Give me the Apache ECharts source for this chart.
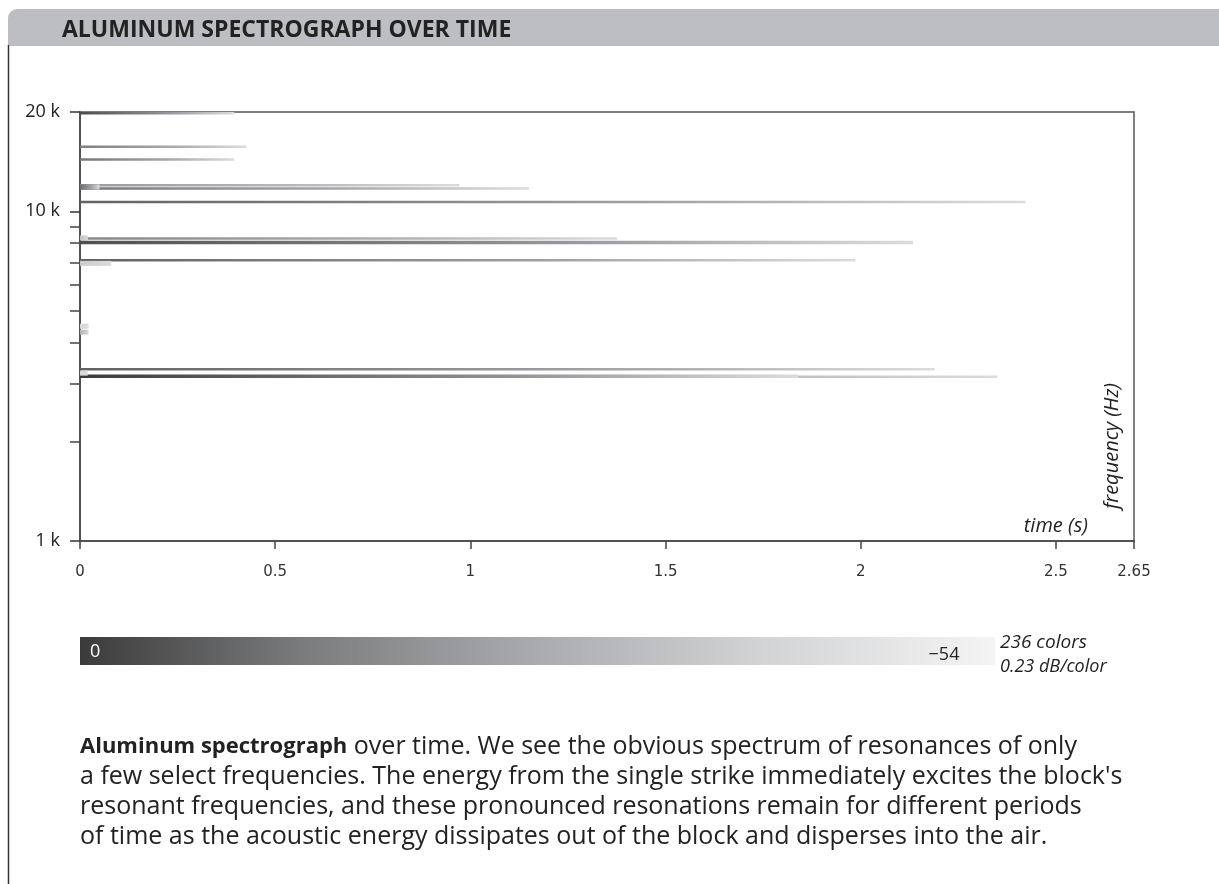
<!DOCTYPE html>
<html>
<head>
<meta charset="utf-8">
<script src="https://cdn.jsdelivr.net/npm/echarts@6/dist/echarts.min.js"></script>
<style>
html,body{margin:0;padding:0;background:#fff;}
#chart{width:1219px;height:884px;}
</style>
</head>
<body>
<div id="chart"></div>
<script>
// ---------- data ----------
const titleText = 'ALUMINUM SPECTROGRAPH OVER TIME';
// resonance lines: frequency (Hz), time at which it has faded out (s), level at t=0 (dB)
const freqs    = [19900, 15700, 14350, 12000, 11720, 11850, 10670, 8270, 8300, 8040, 7100, 6950, 4480, 4300, 3320, 3150, 3160, 3230];
const endTimes = [0.395, 0.426, 0.395, 0.972, 1.150, 0.05,  2.422, 1.376, 0.02, 2.134, 1.986, 0.08, 0.022, 0.022, 2.189, 2.35, 1.84, 0.02];
const startDb  = [-4,    -14,   -12,   -22,   -12,   -10,   -8,    -16,   -34,  -4,    -8,    -38,  -42,   -30,   -8,    -12,  0,    -42];
const xTickLabelMax = '2.65';
const xMax = 2.7;
const yMin = 1000, yMax = 20000;
const minorTickFreqs = [2000, 3000, 4000, 5000, 6000, 7000, 8000, 9000];
const dbRange = [0, -54];
const colorInfo = ['236 colors', '0.23 dB/color'];
const captionLines = [
  ['Aluminum spectrograph', ' over time. We see the obvious spectrum of resonances of only'],
  ['', 'a few select frequencies. The energy from the single strike immediately excites the block\'s'],
  ['', 'resonant frequencies, and these pronounced resonations remain for different periods'],
  ['', 'of time as the acoustic energy dissipates out of the block and disperses into the air.']
];

// ---------- styles ----------
const grayStops = ['#3b3b3b', '#7c7d7f', '#aaabae', '#d3d4d6', '#f4f4f4'];
function grayFor(db) {
  const t = Math.min(1, Math.max(0, db / dbRange[1]));
  return echarts.color.lerp(t, grayStops);
}
const fadeEndDb = -44;

const chart = echarts.init(document.getElementById('chart'), null, {renderer: 'canvas'});

const gridL = 80, gridT = 112, gridW = 1054, gridH = 429;

const graphics = [
  {type: 'rect', shape: {x: 8, y: 9, width: 1240, height: 37, r: [9, 0, 0, 0]}, style: {fill: '#bdbec2'}, z: 0},
  {type: 'line', shape: {x1: 8.5, y1: 45, x2: 8.5, y2: 884}, style: {stroke: '#333', lineWidth: 1.5}},
  {type: 'text', x: 62, y: 30, style: {text: titleText, font: 'bold 23px "Open Sans"', fill: '#222', verticalAlign: 'middle'}},
  // colour bar
  {type: 'rect', shape: {x: 80, y: 637, width: 915, height: 28},
    style: {fill: new echarts.graphic.LinearGradient(0, 0, 1, 0, grayStops.map((c, i) => ({offset: i / (grayStops.length - 1), color: c})))}},
  {type: 'text', x: 90, y: 652, style: {text: String(dbRange[0]), font: '18px "Open Sans"', fill: '#fff', verticalAlign: 'middle'}},
  {type: 'text', x: 944, y: 655, style: {text: '\u2212' + Math.abs(dbRange[1]), font: '18px "Open Sans"', fill: '#222', align: 'center', verticalAlign: 'middle'}},
  {type: 'text', x: 1000, y: 643, style: {text: colorInfo[0], font: 'italic 19px "Open Sans"', fill: '#222', verticalAlign: 'middle'}},
  {type: 'text', x: 1000, y: 667, style: {text: colorInfo[1], font: 'italic 18px "Open Sans"', fill: '#222', verticalAlign: 'middle'}},
  // axis names
  {type: 'text', x: 1088, y: 526, style: {text: 'time (s)', font: 'italic 20px "Open Sans"', fill: '#222', align: 'right', verticalAlign: 'middle'}},
  {type: 'text', x: 1112, y: 446, rotation: Math.PI / 2, style: {text: 'frequency (Hz)', font: 'italic 20px "Open Sans"', fill: '#222', align: 'center', verticalAlign: 'middle'}}
];
captionLines.forEach((ln, i) => {
  graphics.push({type: 'text', x: 80, y: 747 + i * 30, style: {
    text: (ln[0] ? '{b|' + ln[0] + '}' : '') + '{r|' + ln[1] + '}',
    verticalAlign: 'middle',
    rich: {
      b: {font: 'bold 22px "Open Sans"', fill: '#222'},
      r: {font: '25px "Open Sans"', fill: '#222'}
    }
  }});
});

const option = {
  backgroundColor: '#fff',
  animation: false,
  grid: {left: gridL, top: gridT, width: gridW, height: gridH, show: true, borderColor: '#555', borderWidth: 1.5, containLabel: false, outerBoundsMode: 'none'},
  xAxis: {
    type: 'value', min: 0, max: xMax, interval: 0.5,
    axisLine: {onZero: false, lineStyle: {color: '#444', width: 1.5}},
    axisTick: {show: true, length: 8, lineStyle: {color: '#444', width: 1.5}},
    splitLine: {show: false},
    axisLabel: {showMaxLabel: true, showMinLabel: true, margin: 24, fontSize: 15, fontFamily: 'DejaVu Sans', color: '#333',
      formatter: v => (Math.abs(v - xMax) < 1e-9 ? xTickLabelMax : String(v))}
  },
  yAxis: [
    {
      type: 'log', logBase: 10, min: yMin, max: yMax, position: 'left',
      axisLine: {show: true, lineStyle: {color: '#444', width: 1.5}},
      axisTick: {show: true, length: 10, lineStyle: {color: '#333', width: 1.5}},
      splitLine: {show: false}, minorTick: {show: false},
      axisLabel: {margin: 20, fontSize: 18, fontFamily: 'Open Sans', color: '#222', showMaxLabel: true,
        formatter: v => Math.round(v / 1000) + ' k'}
    },
    {
      type: 'value', position: 'left', min: Math.log10(yMin), max: Math.log10(yMax),
      axisLine: {show: false}, axisLabel: {show: false}, splitLine: {show: false},
      axisTick: {show: true, length: 10, lineStyle: {color: '#444', width: 1.5}, customValues: minorTickFreqs.map(f => Math.log10(f))}
    }
  ],
  graphic: graphics,
  series: [{
    type: 'custom',
    coordinateSystem: 'cartesian2d',
    xAxisIndex: 0, yAxisIndex: 0,
    silent: true,
    clip: true,
    encode: {x: 0, y: 1},
    data: freqs.map((f, i) => [endTimes[i], f, startDb[i]]),
    renderItem: function (params, api) {
      const tEnd = api.value(0), f = api.value(1), db = api.value(2);
      const p0 = api.coord([0, f]);
      const p1 = api.coord([tEnd, f]);
      const h = tEnd < 0.1 ? 5 : (db >= -4 ? 3.5 : 2.5);
      return {
        type: 'rect',
        shape: {x: p0[0], y: p0[1] - h / 2, width: Math.max(1, p1[0] - p0[0]), height: h},
        style: {fill: new echarts.graphic.LinearGradient(0, 0, 1, 0, [
          {offset: 0, color: grayFor(db)},
          {offset: 0.6, color: grayFor(db + (fadeEndDb - db) * 0.45)},
          {offset: 1, color: grayFor(fadeEndDb)}
        ])}
      };
    }
  }]
};
chart.setOption(option);
</script>
</body>
</html>
